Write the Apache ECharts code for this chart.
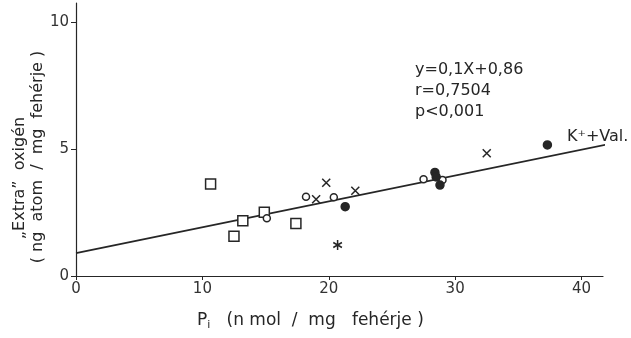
<!DOCTYPE html>
<html><head><meta charset="utf-8">
<script src="https://cdn.jsdelivr.net/npm/echarts@6/dist/echarts.min.js"></script>
<style>html,body{margin:0;padding:0;background:#fff}#c{width:631px;height:338px}</style>
</head><body><div id="c"></div>
<script>
// Data
const squarePts = [[10.65,3.62],[13.2,2.18],[12.5,1.57],[14.9,2.51],[17.4,2.07]];
const openCirclePts = [[15.1,2.27],[18.2,3.12],[20.4,3.10],[27.5,3.81],[29.0,3.78]];
const crossPts = [[19.0,3.02],[19.8,3.67],[22.1,3.36],[32.5,4.83]];
const filledPts = [[21.3,2.73],[28.4,4.08],[28.5,3.9],[28.8,3.58],[37.3,5.16]];
const asteriskPts = [[20.7,1.22]];
const regLineX = [0, 42.2];
const regLineY = [0.9, 5.2];
const xTicks = [0,10,20,30,40];
const yTicks = [0,5,10];
const statLines = ['y=0,1X+0,86','r=0,7504','p<0,001'];
const lineLabel = 'K\u207A+Val.';
const yTitle1 = '\u201EExtra\u201D  oxig\u00E9n';
const yTitle2 = '( ng  atom  /  mg  feh\u00E9rje )';
const xTitleMain = 'P';
const xTitleSub = 'i';
const xTitleUnit = '(n mol  /  mg   feh\u00E9rje )';

const ink = '#262626';
const font = 'DejaVu Sans';
const chart = echarts.init(document.getElementById('c'), null, {renderer:'canvas'});
const regData = regLineX.map((x,i)=>[x, regLineY[i]]);
const cross = 'path://M0,0L10,10M10,0L0,10';
const aster = 'path://M5,0L5,10M0.67,2.5L9.33,7.5M0.67,7.5L9.33,2.5';
const scatter = (data, symbol, size, fill) => ({
  type:'scatter', data, symbol, symbolSize:size, clip:false,
  itemStyle:{color:fill, borderColor:ink, borderWidth:1.5, opacity:1},
  emphasis:{disabled:true}, z:3
});
chart.setOption({
  animation:false,
  backgroundColor:'#fff',
  grid:{left:76, right:28, top:3, bottom:62},
  xAxis:{type:'value', min:0, max:41.7, interval:10,
    axisLine:{lineStyle:{color:ink, width:1.2}},
    axisTick:{show:true, length:4, lineStyle:{color:ink}, customValues:xTicks},
    axisLabel:{color:'#333', fontSize:15, fontFamily:font, margin:6, customValues:xTicks},
    splitLine:{show:false}},
  yAxis:{type:'value', min:0, max:10.75, interval:5,
    axisLine:{show:true, lineStyle:{color:ink, width:1.2}},
    axisTick:{show:true, length:5, lineStyle:{color:ink}, customValues:yTicks},
    axisLabel:{color:'#333', fontSize:15, fontFamily:font, margin:7, customValues:yTicks},
    splitLine:{show:false}},
  series:[
    {type:'line', data:regData, symbol:'none', clip:false, lineStyle:{color:ink, width:1.8}, z:2},
    scatter(squarePts,'rect',10,'#fff'),
    scatter(openCirclePts,'circle',7,'#fff'),
    Object.assign(scatter(crossPts,cross,8,'none'),{symbolKeepAspect:true}),
    scatter(filledPts,'circle',8,ink),
    Object.assign(scatter(asteriskPts,aster,10,'none'),{symbolKeepAspect:true})
  ],
  graphic:[
    ...statLines.map((t,i)=>({type:'text', left:415, top:62+i*21,
      style:{text:t, fill:ink, font:'16px "'+font+'"'}})),
    {type:'text', left:567, top:129, style:{text:lineLabel, fill:ink, font:'16px "'+font+'"'}},
    {type:'text', x:20, y:178, rotation:Math.PI/2,
      style:{text:yTitle1, fill:ink, font:'16px "'+font+'"', align:'center', verticalAlign:'middle'}},
    {type:'text', x:38, y:157, rotation:Math.PI/2,
      style:{text:yTitle2, fill:ink, font:'16px "'+font+'"', align:'center', verticalAlign:'middle'}},
    {type:'text', left:197, top:312,
      style:{rich:{a:{fontSize:17, fontFamily:font, fill:ink}, s:{fontSize:11, fontFamily:font, fill:ink, padding:[9,0,0,0]}},
        text:'{a|'+xTitleMain+'}{s|'+xTitleSub+'}{a|   '+xTitleUnit+'}'}}
  ]
});
</script></body></html>
